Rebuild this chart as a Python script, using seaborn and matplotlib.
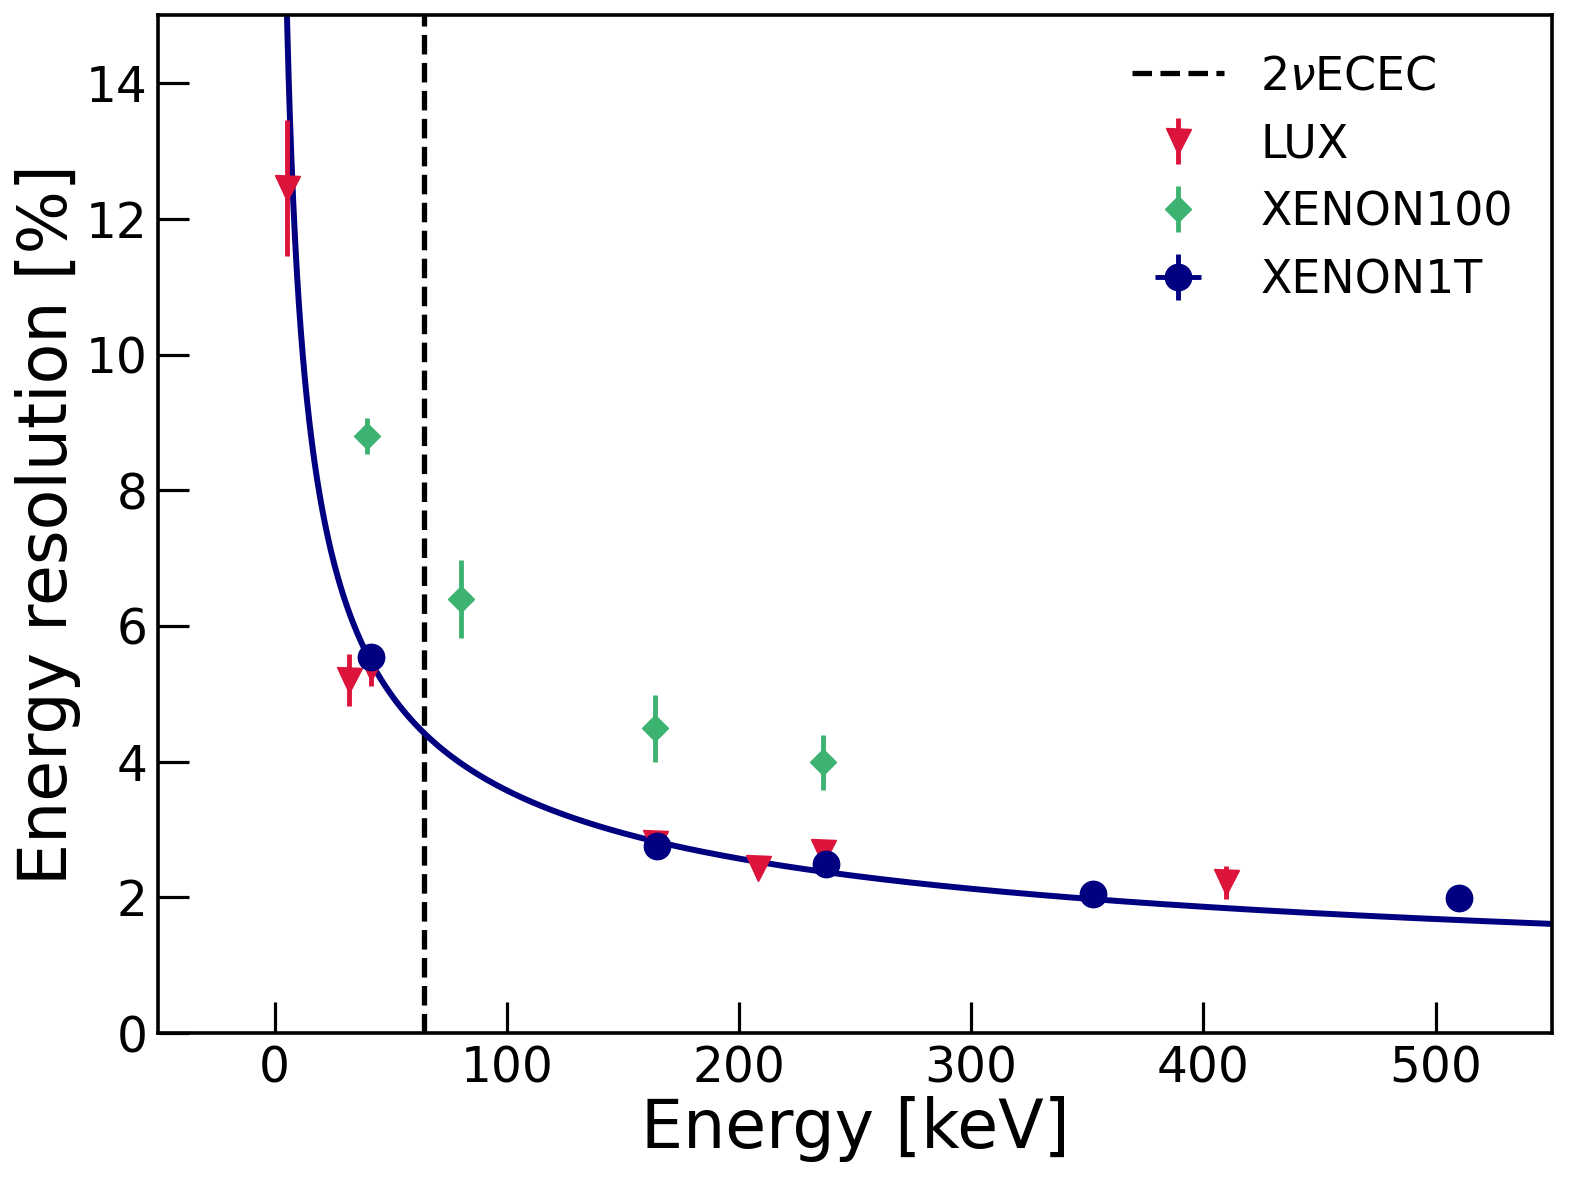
import numpy as np
import pandas as pd
import matplotlib
matplotlib.use('Agg')
import matplotlib.pyplot as plt
import seaborn as sns

# LUX points
lux_E = [5.2, 32.2, 41.7, 163.8, 208.0, 236.0, 409.7]
lux_res = [12.45, 5.2, 5.38, 2.8, 2.43, 2.67, 2.22]
lux_err = [1.0, 0.38, 0.27, 0.08, 0.15, 0.1, 0.24]

# XENON100 points
x100_E = [40.0, 80.4, 163.8, 236.0]
x100_res = [8.8, 6.4, 4.49, 3.99]
x100_err = [0.26, 0.57, 0.5, 0.41]

# XENON1T points
x1t_E = [41.7, 164.7, 237.3, 352.5, 510.0]
x1t_res = [5.54, 2.76, 2.49, 2.05, 1.99]
x1t_err = [0.05, 0.05, 0.05, 0.05, 0.05]
x1t_xerr = [1.0, 1.0, 1.0, 1.0, 1.0]

# fit: a/sqrt(E) + b
fit_a = 34.3
fit_b = 0.147
ecec_E = 64.3

sns.set_style('white')
plt.rcParams['font.family'] = ['DejaVu Sans']
plt.rcParams['text.color'] = 'black'
plt.rcParams['axes.labelcolor'] = 'black'
plt.rcParams['xtick.color'] = 'black'
plt.rcParams['ytick.color'] = 'black'

fig, ax = plt.subplots(figsize=(15.69, 11.78), dpi=100)
fig.subplots_adjust(left=0.101, right=0.989, top=0.987, bottom=0.123)

E_fit = np.linspace(1, 560, 2000)
fit_df = pd.DataFrame({'E': E_fit, 'res': fit_a / np.sqrt(E_fit) + fit_b})
sns.lineplot(data=fit_df, x='E', y='res', color='navy', lw=4.3, ax=ax, zorder=2)

ax.axvline(ecec_E, color='black', ls='--', lw=3.8, label=r'2$\nu$ECEC', zorder=1)

ax.errorbar(lux_E, lux_res, yerr=lux_err, fmt='v', color='crimson', ms=18,
            elinewidth=3.5, capsize=0, label='LUX', zorder=3)
ax.errorbar(x100_E, x100_res, yerr=x100_err, fmt='D', color='mediumseagreen', ms=13,
            elinewidth=3.5, capsize=0, label='XENON100', zorder=3)
ax.errorbar(x1t_E, x1t_res, yerr=x1t_err, xerr=x1t_xerr, fmt='o', color='navy', ms=19,
            elinewidth=3.5, capsize=0, label='XENON1T', zorder=4)

ax.set_xlim(-50, 550)
ax.set_ylim(0, 15)
ax.set_xticks([0, 100, 200, 300, 400, 500])
ax.set_yticks([0, 2, 4, 6, 8, 10, 12, 14])
ax.set_xlabel('Energy [keV]', fontsize=48, color='black', labelpad=3)
ax.set_ylabel('Energy resolution [%]', fontsize=48, color='black', labelpad=3)
ax.tick_params(axis='both', direction='in', length=22, width=2.3, labelsize=35,
               colors='black', left=True, bottom=True, top=False, right=False, pad=8)
for sp in ax.spines.values():
    sp.set_linewidth(2.6)
    sp.set_color('black')

leg = ax.legend(loc='upper right', frameon=False, fontsize=33, handlelength=2.0,
                labelspacing=0.5, borderaxespad=0.45)

fig.savefig('out.png', dpi=100)
